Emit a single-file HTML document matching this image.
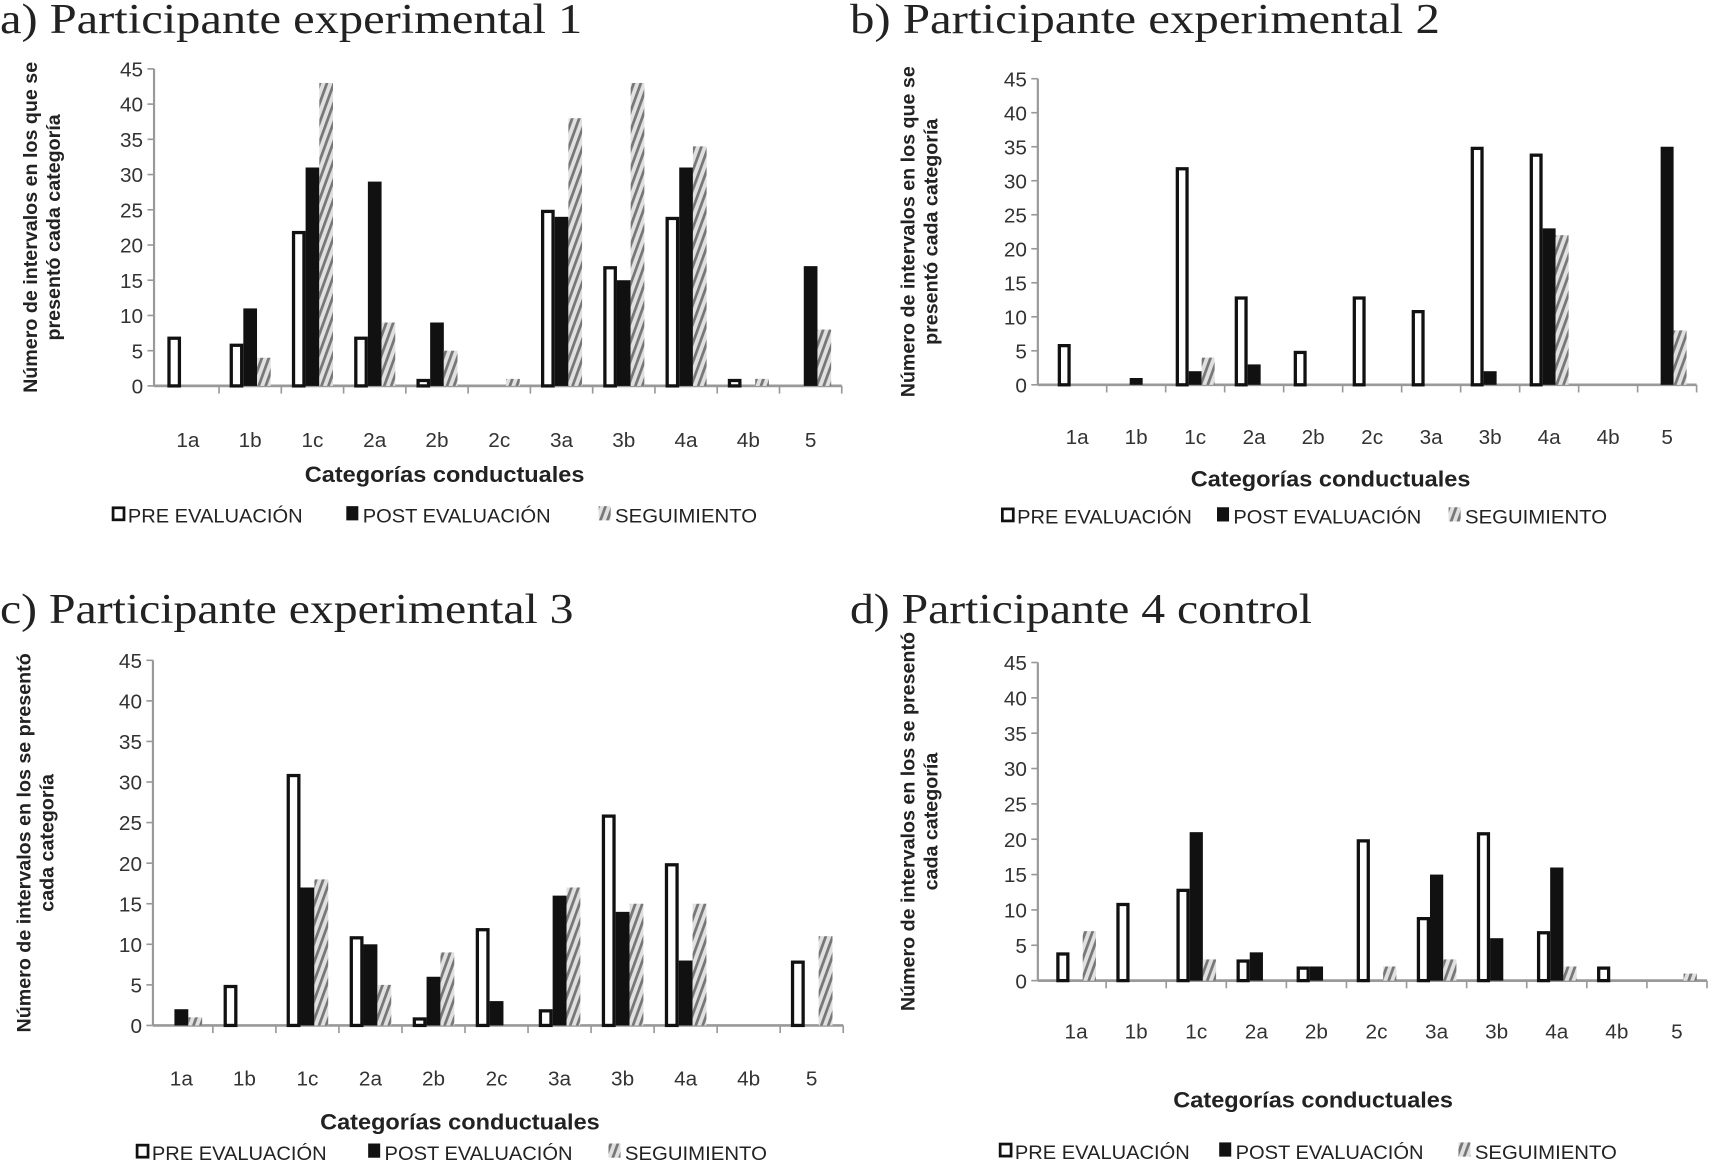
<!DOCTYPE html>
<html><head><meta charset="utf-8"><style>
html,body{margin:0;padding:0;background:#fff;overflow:hidden}
svg{display:block}
.ttl{font-family:"Liberation Serif",serif;font-size:39px;fill:#222}
.tick{font-family:"Liberation Sans",sans-serif;font-size:19px;fill:#333}
.yt{font-family:"Liberation Sans",sans-serif;font-size:18px;font-weight:bold;fill:#222}
.xt{font-family:"Liberation Sans",sans-serif;font-size:20px;font-weight:bold;fill:#222}
.lg{font-family:"Liberation Sans",sans-serif;font-size:18px;fill:#222}
</style></head><body>
<svg id="s" width="1713" height="1161" viewBox="0 0 1568 1062" preserveAspectRatio="none">
<defs><pattern id="hatch" width="6" height="6" patternUnits="userSpaceOnUse" patternTransform="rotate(20)">
<rect width="6" height="6" fill="#e0e0e0"/><rect width="2.5" height="6" fill="#777"/></pattern></defs>
</svg>
<script>
const categories=["1a","1b","1c","2a","2b","2c","3a","3b","4a","4b","5"];
const yTicks=[0,5,10,15,20,25,30,35,40,45];
const preA=[7,6,22,7,1,0,25,17,24,1,0];
const postA=[0,11,31,29,9,0,24,15,31,0,17];
const segA=[0,4,43,9,5,1,38,43,34,1,8];
const preB=[6,0,32,13,5,13,11,35,34,0,0];
const postB=[0,1,2,3,0,0,0,2,23,0,35];
const segB=[0,0,4,0,0,0,0,0,22,0,8];
const preC=[0,5,31,11,1,12,2,26,20,0,8];
const postC=[2,0,17,10,6,3,16,14,8,0,0];
const segC=[1,0,18,5,9,0,17,15,15,0,11];
const preD=[4,11,13,3,2,20,9,21,7,2,0];
const postD=[0,0,21,4,2,0,15,6,16,0,0];
const segD=[7,0,3,0,0,2,3,0,2,0,1];
const NS="http://www.w3.org/2000/svg";
const svg=document.getElementById('s');
function mk(tag,attrs,parent,text){const e=document.createElementNS(NS,tag);for(const k in attrs)e.setAttribute(k,attrs[k]);if(text!==undefined)e.textContent=text;parent.appendChild(e);return e;}
function chart(o,pre,post,seg){
 const g=mk('g',{},svg);
 
 
 const t=mk('text',{x:o.tx,y:o.ty,class:'ttl',textLength:o.tw,lengthAdjust:'spacingAndGlyphs'},g,o.title);
 
 
 const y=v=>o.y0-(o.y0-o.y45)*v/45;
 const cx=i=>o.c0+o.sp*i;
 mk('line',{x1:o.ax,y1:o.y45,x2:o.ax,y2:o.y0,stroke:'#999','stroke-width':2},g);
 mk('line',{x1:o.ax,y1:o.y0,x2:o.c0+o.sp*10.5,y2:o.y0,stroke:'#999','stroke-width':2.5},g);
 yTicks.forEach(v=>{
  mk('line',{x1:o.ax-6,y1:y(v),x2:o.ax,y2:y(v),stroke:'#999','stroke-width':1.5},g);
  const tl=mk('text',{x:o.ax-10,y:y(v)+7,class:'tick','text-anchor':'end'},g,v);
  
  
 });
 categories.forEach((c,i)=>{
  mk('line',{x1:cx(i)+o.sp/2,y1:o.y0,x2:cx(i)+o.sp/2,y2:o.y0+7,stroke:'#999','stroke-width':1.5},g);
  const tl=mk('text',{x:cx(i),y:o.ly,class:'tick','text-anchor':'middle'},g,c);
  
  
  const w=o.sp*0.22;
  const drawBar=(v,off,kind)=>{
   if(v<=0)return;
   const x=cx(i)+off*w-w/2,yy=y(v),h=o.y0-yy;
   let r;
   if(kind==='pre')r=mk('rect',{x:x+1.5,y:yy+1.5,width:w-3,height:h-1.5,fill:'#fff',stroke:'#111','stroke-width':3},g);
   else if(kind==='post')r=mk('rect',{x:x,y:yy,width:w,height:h,fill:'#111'},g);
   else r=mk('rect',{x:x,y:yy,width:w,height:h,fill:'url(#hatch)'},g);
   
   
  };
  drawBar(pre[i],-1,'pre');drawBar(post[i],0,'post');drawBar(seg[i],1,'seg');
 });
 const yl=mk('text',{class:'yt','text-anchor':'middle',transform:`translate(${o.ytx},${(o.y0+o.y45)/2}) rotate(-90)`},g);
 
 
 mk('tspan',{x:0,dy:0},yl,o.yt1);mk('tspan',{x:0,dy:21},yl,o.yt2);
 const xl=mk('text',{x:o.xtx,y:o.xty,class:'xt','text-anchor':'middle',textLength:256,lengthAdjust:'spacingAndGlyphs'},g,'Categorías conductuales');
 
 
 const L=o.lx,ly=o.lgy;
 const items=[['pre','PRE EVALUACIÓN',0,160],['post','POST EVALUACIÓN',o.lsp,172],['seg','SEGUIMIENTO',o.lsp2,130]];
 items.forEach(([k,lab,dx,tw])=>{
  const lgG=mk('g',{},g);
  
  
  if(k==='pre')mk('rect',{x:L+dx+1.5,y:ly-13.5,width:10,height:11,fill:'#fff',stroke:'#111','stroke-width':2.5},lgG);
  else if(k==='post')mk('rect',{x:L+dx,y:ly-15,width:11,height:13,fill:'#111'},lgG);
  else mk('rect',{x:L+dx,y:ly-15,width:11,height:13,fill:'url(#hatch)'},lgG);
  mk('text',{x:L+dx+15,y:ly,class:'lg',textLength:tw,lengthAdjust:'spacingAndGlyphs'},lgG,lab);
 });
}
chart({id:'chart-a',title:'a) Participante  experimental 1',tw:533,tx:0,ty:30,ax:141,y0:353,y45:63,c0:172,sp:57,ly:409,ytx:34,yt1:'Número de intervalos en los que se',yt2:'presentó cada categoría',xtx:407,xty:441,lx:102,lgy:478,lsp:215,lsp2:446},preA,postA,segA);
chart({id:'chart-b',title:'b)  Participante experimental 2',tw:540,tx:778,ty:30,ax:950,y0:352,y45:72,c0:986,sp:54,ly:406,ytx:837,yt1:'Número de intervalos en los que se',yt2:'presentó cada categoría',xtx:1218,xty:445,lx:916,lgy:479,lsp:198,lsp2:410},preB,postB,segB);
chart({id:'chart-c',title:'c) Participante experimental 3',tw:525,tx:0,ty:570,ax:140,y0:938,y45:604,c0:166,sp:57.7,ly:993,ytx:28,yt1:'Número de intervalos en los se presentó',yt2:'cada categoría',xtx:421,xty:1033,lx:124,lgy:1061,lsp:213,lsp2:433},preC,postC,segC);
chart({id:'chart-d',title:'d) Participante 4 control',tw:423,tx:778,ty:570,ax:950,y0:897,y45:606,c0:985,sp:55,ly:950,ytx:837,yt1:'Número de intervalos en los se presentó',yt2:'cada categoría',xtx:1202,xty:1013,lx:914,lgy:1060,lsp:202,lsp2:421},preD,postD,segD);
</script>
</body></html>
